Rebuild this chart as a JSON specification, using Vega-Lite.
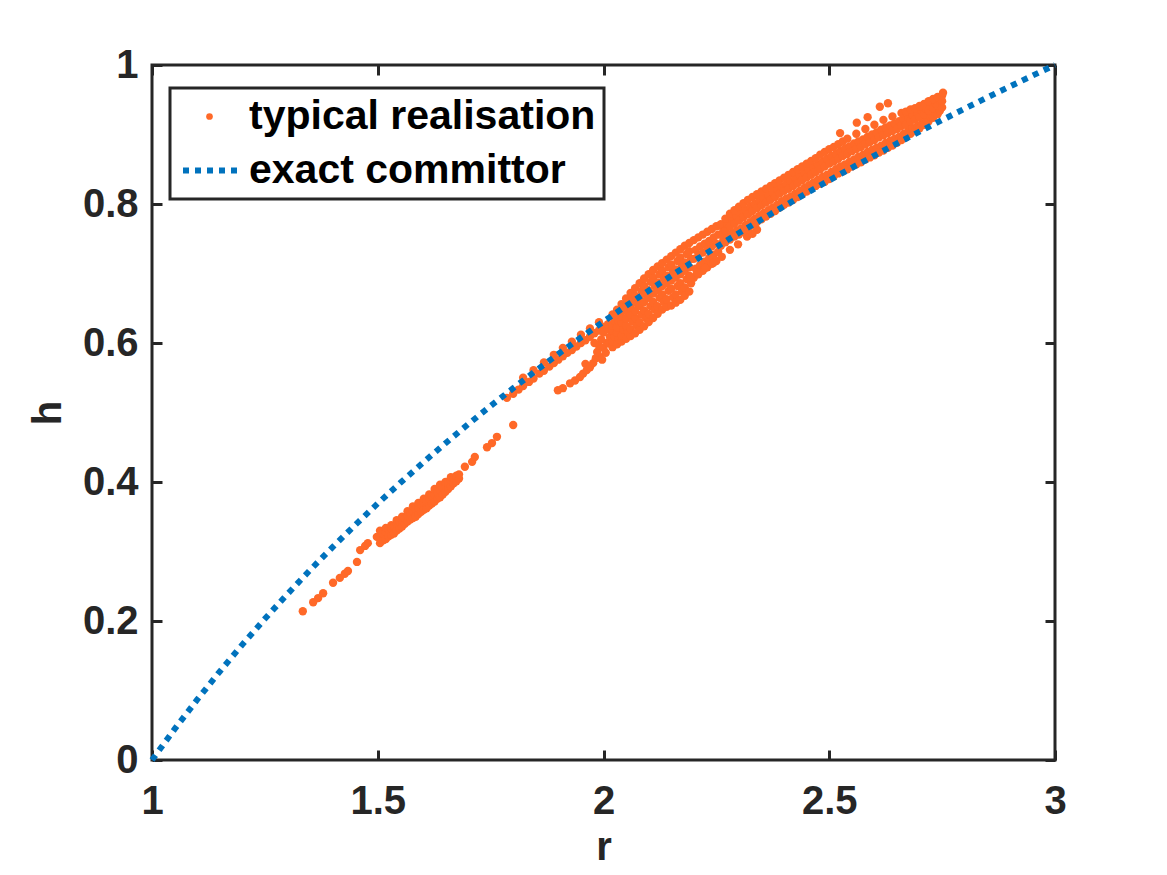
{
"$schema":"https://vega.github.io/schema/vega-lite/v6.json",
"width":903,"height":695,
"autosize":{"type":"none"},
"padding":{"left":152,"top":65,"right":112,"bottom":115},
"background":"white",
"config":{
 "view":{"stroke":"#262626","strokeWidth":3},
 "font":"Liberation Sans",
 "axis":{"grid":false,"domain":false,"labelFont":"Liberation Sans","labelFontSize":40,"labelFontWeight":"bold","labelColor":"#262626","tickColor":"#262626","tickWidth":3,"titleFont":"Liberation Sans","titleFontSize":40,"titleFontWeight":"bold","titleColor":"#262626"},
 "legend":{"strokeWidth":3}
},
"datasets":{
"curve":[
{"r":1.0,"h":0},{"r":1.05,"h":0.0444},{"r":1.1,"h":0.0868},{"r":1.15,"h":0.1272},{"r":1.2,"h":0.166},{"r":1.25,"h":0.2031},{"r":1.3,"h":0.2388},{"r":1.35,"h":0.2732},{"r":1.4,"h":0.3063},{"r":1.45,"h":0.3382},{"r":1.5,"h":0.3691},{"r":1.55,"h":0.3989},{"r":1.6,"h":0.4278},{"r":1.65,"h":0.4558},{"r":1.7,"h":0.483},{"r":1.75,"h":0.5094},{"r":1.8,"h":0.535},{"r":1.85,"h":0.56},{"r":1.9,"h":0.5842},{"r":1.95,"h":0.6079},{"r":2.0,"h":0.6309},{"r":2.05,"h":0.6534},{"r":2.1,"h":0.6753},{"r":2.15,"h":0.6968},{"r":2.2,"h":0.7177},{"r":2.25,"h":0.7381},{"r":2.3,"h":0.7582},{"r":2.35,"h":0.7777},{"r":2.4,"h":0.7969},{"r":2.45,"h":0.8157},{"r":2.5,"h":0.834},{"r":2.55,"h":0.8521},{"r":2.6,"h":0.8697},{"r":2.65,"h":0.8871},{"r":2.7,"h":0.9041},{"r":2.75,"h":0.9208},{"r":2.8,"h":0.9372},{"r":2.85,"h":0.9533},{"r":2.9,"h":0.9691},{"r":2.95,"h":0.9847},{"r":3.0,"h":1.0}
],
"pts":[
{"r":1.334,"h":0.214},{"r":1.357,"h":0.227},{"r":1.368,"h":0.233},{"r":1.379,"h":0.240},{"r":1.401,"h":0.255},{"r":1.416,"h":0.262},{"r":1.427,"h":0.268},{"r":1.434,"h":0.272},{"r":1.454,"h":0.285},{"r":1.461,"h":0.302},{"r":1.472,"h":0.308},{"r":1.478,"h":0.312},{"r":1.498,"h":0.321},
{"r":1.505,"h":0.312},{"r":1.505,"h":0.322},{"r":1.505,"h":0.330},
{"r":1.512,"h":0.316},{"r":1.512,"h":0.326},
{"r":1.518,"h":0.318},{"r":1.518,"h":0.328},{"r":1.518,"h":0.334},
{"r":1.524,"h":0.322},{"r":1.524,"h":0.332},
{"r":1.530,"h":0.324},{"r":1.530,"h":0.333},{"r":1.530,"h":0.338},
{"r":1.536,"h":0.326},{"r":1.536,"h":0.336},
{"r":1.542,"h":0.330},{"r":1.542,"h":0.340},{"r":1.542,"h":0.345},
{"r":1.548,"h":0.333},{"r":1.548,"h":0.343},
{"r":1.554,"h":0.336},{"r":1.554,"h":0.345},{"r":1.554,"h":0.350},
{"r":1.560,"h":0.340},{"r":1.560,"h":0.348},
{"r":1.566,"h":0.343},{"r":1.566,"h":0.352},{"r":1.566,"h":0.358},
{"r":1.572,"h":0.346},{"r":1.572,"h":0.356},
{"r":1.578,"h":0.348},{"r":1.578,"h":0.358},{"r":1.578,"h":0.365},
{"r":1.584,"h":0.350},{"r":1.584,"h":0.361},
{"r":1.590,"h":0.354},{"r":1.590,"h":0.363},{"r":1.590,"h":0.370},
{"r":1.596,"h":0.357},{"r":1.596,"h":0.367},
{"r":1.602,"h":0.360},{"r":1.602,"h":0.370},{"r":1.602,"h":0.376},
{"r":1.608,"h":0.362},{"r":1.608,"h":0.373},
{"r":1.614,"h":0.366},{"r":1.614,"h":0.376},{"r":1.614,"h":0.382},
{"r":1.620,"h":0.369},{"r":1.620,"h":0.380},
{"r":1.626,"h":0.372},{"r":1.626,"h":0.382},{"r":1.626,"h":0.390},
{"r":1.632,"h":0.376},{"r":1.632,"h":0.386},
{"r":1.638,"h":0.378},{"r":1.638,"h":0.388},{"r":1.638,"h":0.396},
{"r":1.644,"h":0.382},{"r":1.644,"h":0.392},
{"r":1.650,"h":0.386},{"r":1.650,"h":0.395},{"r":1.650,"h":0.400},
{"r":1.656,"h":0.390},{"r":1.656,"h":0.398},
{"r":1.662,"h":0.394},{"r":1.662,"h":0.402},{"r":1.662,"h":0.407},
{"r":1.668,"h":0.398},{"r":1.668,"h":0.405},
{"r":1.674,"h":0.401},{"r":1.674,"h":0.409},
{"r":1.680,"h":0.405},{"r":1.680,"h":0.411},
{"r":1.693,"h":0.422},{"r":1.709,"h":0.429},{"r":1.715,"h":0.436},{"r":1.742,"h":0.450},{"r":1.753,"h":0.456},{"r":1.764,"h":0.465},{"r":1.800,"h":0.482},
{"r":1.786,"h":0.521},{"r":1.800,"h":0.527},{"r":1.812,"h":0.533},{"r":1.822,"h":0.538},{"r":1.822,"h":0.550},{"r":1.835,"h":0.544},{"r":1.845,"h":0.549},{"r":1.845,"h":0.561},{"r":1.858,"h":0.556},{"r":1.868,"h":0.572},{"r":1.868,"h":0.560},{"r":1.880,"h":0.566},{"r":1.890,"h":0.571},{"r":1.890,"h":0.583},{"r":1.900,"h":0.576},{"r":1.910,"h":0.581},{"r":1.910,"h":0.593},{"r":1.920,"h":0.586},{"r":1.930,"h":0.590},{"r":1.930,"h":0.602},{"r":1.940,"h":0.595},{"r":1.950,"h":0.600},{"r":1.950,"h":0.612},{"r":1.960,"h":0.604},{"r":1.970,"h":0.609},{"r":1.970,"h":0.621},{"r":1.980,"h":0.614},{"r":1.990,"h":0.618},{"r":1.990,"h":0.630},{"r":2.000,"h":0.623},{"r":2.010,"h":0.627},
{"r":1.899,"h":0.532},{"r":1.910,"h":0.535},{"r":1.926,"h":0.542},{"r":1.937,"h":0.546},{"r":1.948,"h":0.551},{"r":1.955,"h":0.556},{"r":1.963,"h":0.561},{"r":1.960,"h":0.570},{"r":1.970,"h":0.565},{"r":1.977,"h":0.571},{"r":1.983,"h":0.578},{"r":1.992,"h":0.580},{"r":1.997,"h":0.576},{"r":1.986,"h":0.587},{"r":1.990,"h":0.596},{"r":2.000,"h":0.593},{"r":2.005,"h":0.586},{"r":2.008,"h":0.600},{"r":2.014,"h":0.609},{"r":2.020,"h":0.595},{"r":1.995,"h":0.605},{"r":2.000,"h":0.615},{"r":2.010,"h":0.620},{"r":1.980,"h":0.600},
{"r":2.02,"h":0.594},{"r":2.02,"h":0.602},{"r":2.024,"h":0.610},{"r":2.02,"h":0.618},{"r":2.02,"h":0.625},{"r":2.024,"h":0.633},{"r":2.02,"h":0.641},
{"r":2.03,"h":0.598},{"r":2.034,"h":0.606},{"r":2.03,"h":0.615},{"r":2.03,"h":0.623},{"r":2.034,"h":0.631},{"r":2.03,"h":0.640},{"r":2.03,"h":0.648},
{"r":2.04,"h":0.602},{"r":2.04,"h":0.611},{"r":2.044,"h":0.620},{"r":2.04,"h":0.629},{"r":2.04,"h":0.638},{"r":2.044,"h":0.647},{"r":2.04,"h":0.656},
{"r":2.05,"h":0.606},{"r":2.054,"h":0.616},{"r":2.05,"h":0.625},{"r":2.05,"h":0.635},{"r":2.054,"h":0.645},{"r":2.05,"h":0.654},{"r":2.05,"h":0.664},
{"r":2.06,"h":0.610},{"r":2.06,"h":0.620},{"r":2.064,"h":0.631},{"r":2.06,"h":0.641},{"r":2.06,"h":0.651},{"r":2.064,"h":0.662},{"r":2.06,"h":0.672},
{"r":2.07,"h":0.614},{"r":2.074,"h":0.625},{"r":2.07,"h":0.636},{"r":2.07,"h":0.646},{"r":2.074,"h":0.657},{"r":2.07,"h":0.668},{"r":2.07,"h":0.679},
{"r":2.08,"h":0.619},{"r":2.08,"h":0.630},{"r":2.084,"h":0.641},{"r":2.08,"h":0.653},{"r":2.08,"h":0.664},{"r":2.084,"h":0.675},{"r":2.08,"h":0.686},
{"r":2.09,"h":0.624},{"r":2.094,"h":0.636},{"r":2.09,"h":0.647},{"r":2.09,"h":0.659},{"r":2.094,"h":0.670},{"r":2.09,"h":0.682},{"r":2.09,"h":0.693},
{"r":2.10,"h":0.630},{"r":2.10,"h":0.642},{"r":2.104,"h":0.653},{"r":2.10,"h":0.665},{"r":2.10,"h":0.676},{"r":2.104,"h":0.688},{"r":2.10,"h":0.699},
{"r":2.11,"h":0.636},{"r":2.114,"h":0.648},{"r":2.11,"h":0.659},{"r":2.11,"h":0.671},{"r":2.114,"h":0.682},{"r":2.11,"h":0.694},{"r":2.11,"h":0.705},
{"r":2.12,"h":0.642},{"r":2.12,"h":0.653},{"r":2.124,"h":0.665},{"r":2.12,"h":0.676},{"r":2.12,"h":0.687},{"r":2.124,"h":0.699},{"r":2.12,"h":0.710},
{"r":2.13,"h":0.648},{"r":2.134,"h":0.659},{"r":2.13,"h":0.670},{"r":2.13,"h":0.682},{"r":2.134,"h":0.693},{"r":2.13,"h":0.704},{"r":2.13,"h":0.715},
{"r":2.14,"h":0.652},{"r":2.14,"h":0.663},{"r":2.144,"h":0.675},{"r":2.14,"h":0.686},{"r":2.14,"h":0.697},{"r":2.144,"h":0.709},{"r":2.14,"h":0.720},
{"r":2.15,"h":0.654},{"r":2.154,"h":0.666},{"r":2.15,"h":0.678},{"r":2.15,"h":0.690},{"r":2.154,"h":0.701},{"r":2.15,"h":0.713},{"r":2.15,"h":0.725},
{"r":2.16,"h":0.658},{"r":2.16,"h":0.670},{"r":2.164,"h":0.682},{"r":2.16,"h":0.694},{"r":2.16,"h":0.706},{"r":2.164,"h":0.718},{"r":2.16,"h":0.730},
{"r":2.17,"h":0.662},{"r":2.174,"h":0.674},{"r":2.17,"h":0.686},{"r":2.17,"h":0.699},{"r":2.174,"h":0.711},{"r":2.17,"h":0.723},{"r":2.17,"h":0.735},
{"r":2.18,"h":0.668},{"r":2.18,"h":0.680},{"r":2.184,"h":0.692},{"r":2.18,"h":0.704},{"r":2.18,"h":0.716},{"r":2.184,"h":0.728},{"r":2.18,"h":0.740},
{"r":2.19,"h":0.674},{"r":2.194,"h":0.686},{"r":2.19,"h":0.697},{"r":2.19,"h":0.709},{"r":2.194,"h":0.721},{"r":2.19,"h":0.732},{"r":2.19,"h":0.744},
{"r":2.20,"h":0.694},{"r":2.204,"h":0.707},{"r":2.20,"h":0.721},{"r":2.204,"h":0.734},{"r":2.20,"h":0.748},
{"r":2.21,"h":0.699},{"r":2.214,"h":0.712},{"r":2.21,"h":0.726},{"r":2.214,"h":0.739},{"r":2.21,"h":0.752},
{"r":2.22,"h":0.704},{"r":2.224,"h":0.717},{"r":2.22,"h":0.730},{"r":2.224,"h":0.743},{"r":2.22,"h":0.756},
{"r":2.23,"h":0.709},{"r":2.234,"h":0.722},{"r":2.23,"h":0.735},{"r":2.234,"h":0.747},{"r":2.23,"h":0.760},
{"r":2.24,"h":0.714},{"r":2.244,"h":0.727},{"r":2.24,"h":0.739},{"r":2.244,"h":0.752},{"r":2.24,"h":0.764},
{"r":2.25,"h":0.718},{"r":2.254,"h":0.731},{"r":2.25,"h":0.743},{"r":2.254,"h":0.756},{"r":2.25,"h":0.768},
{"r":2.192,"h":0.695},{"r":2.207,"h":0.701},{"r":2.225,"h":0.708},{"r":2.243,"h":0.715},{"r":2.262,"h":0.724},{"r":2.280,"h":0.734},{"r":2.298,"h":0.742},{"r":2.318,"h":0.753},{"r":2.340,"h":0.763},{"r":2.330,"h":0.757},
{"r":2.26,"h":0.740},{"r":2.265,"h":0.747},{"r":2.26,"h":0.756},{"r":2.265,"h":0.764},{"r":2.26,"h":0.771},
{"r":2.27,"h":0.745},{"r":2.275,"h":0.753},{"r":2.27,"h":0.762},{"r":2.275,"h":0.771},{"r":2.27,"h":0.779},
{"r":2.28,"h":0.749},{"r":2.285,"h":0.758},{"r":2.28,"h":0.768},{"r":2.285,"h":0.777},{"r":2.28,"h":0.786},
{"r":2.29,"h":0.753},{"r":2.295,"h":0.762},{"r":2.29,"h":0.772},{"r":2.295,"h":0.782},{"r":2.29,"h":0.791},
{"r":2.30,"h":0.756},{"r":2.305,"h":0.765},{"r":2.30,"h":0.776},{"r":2.305,"h":0.787},{"r":2.30,"h":0.796},
{"r":2.31,"h":0.760},{"r":2.315,"h":0.770},{"r":2.31,"h":0.781},{"r":2.315,"h":0.791},{"r":2.31,"h":0.801},
{"r":2.32,"h":0.764},{"r":2.325,"h":0.774},{"r":2.32,"h":0.785},{"r":2.325,"h":0.796},{"r":2.32,"h":0.806},
{"r":2.33,"h":0.769},{"r":2.335,"h":0.779},{"r":2.33,"h":0.790},{"r":2.335,"h":0.800},{"r":2.33,"h":0.810},
{"r":2.34,"h":0.774},{"r":2.345,"h":0.783},{"r":2.34,"h":0.794},{"r":2.345,"h":0.805},{"r":2.34,"h":0.814},
{"r":2.35,"h":0.778},{"r":2.355,"h":0.787},{"r":2.35,"h":0.798},{"r":2.355,"h":0.809},{"r":2.35,"h":0.818},
{"r":2.36,"h":0.782},{"r":2.365,"h":0.791},{"r":2.36,"h":0.802},{"r":2.365,"h":0.813},{"r":2.36,"h":0.822},
{"r":2.37,"h":0.786},{"r":2.375,"h":0.795},{"r":2.37,"h":0.806},{"r":2.375,"h":0.817},{"r":2.37,"h":0.826},
{"r":2.38,"h":0.790},{"r":2.385,"h":0.799},{"r":2.38,"h":0.810},{"r":2.385,"h":0.821},{"r":2.38,"h":0.830},
{"r":2.39,"h":0.795},{"r":2.395,"h":0.804},{"r":2.39,"h":0.815},{"r":2.395,"h":0.825},{"r":2.39,"h":0.834},
{"r":2.40,"h":0.799},{"r":2.405,"h":0.808},{"r":2.40,"h":0.819},{"r":2.405,"h":0.829},{"r":2.40,"h":0.838},
{"r":2.41,"h":0.802},{"r":2.415,"h":0.811},{"r":2.41,"h":0.822},{"r":2.415,"h":0.833},{"r":2.41,"h":0.842},
{"r":2.42,"h":0.806},{"r":2.425,"h":0.815},{"r":2.42,"h":0.826},{"r":2.425,"h":0.837},{"r":2.42,"h":0.846},
{"r":2.43,"h":0.810},{"r":2.435,"h":0.819},{"r":2.43,"h":0.830},{"r":2.435,"h":0.841},{"r":2.43,"h":0.850},
{"r":2.44,"h":0.814},{"r":2.445,"h":0.823},{"r":2.44,"h":0.834},{"r":2.445,"h":0.845},{"r":2.44,"h":0.854},
{"r":2.45,"h":0.818},{"r":2.455,"h":0.827},{"r":2.45,"h":0.838},{"r":2.455,"h":0.849},{"r":2.45,"h":0.858},
{"r":2.46,"h":0.822},{"r":2.465,"h":0.831},{"r":2.46,"h":0.842},{"r":2.465,"h":0.853},{"r":2.46,"h":0.862},
{"r":2.47,"h":0.826},{"r":2.475,"h":0.835},{"r":2.47,"h":0.846},{"r":2.475,"h":0.857},{"r":2.47,"h":0.866},
{"r":2.48,"h":0.829},{"r":2.485,"h":0.839},{"r":2.48,"h":0.850},{"r":2.485,"h":0.861},{"r":2.48,"h":0.871},
{"r":2.49,"h":0.832},{"r":2.495,"h":0.842},{"r":2.49,"h":0.854},{"r":2.495,"h":0.865},{"r":2.49,"h":0.875},
{"r":2.50,"h":0.836},{"r":2.505,"h":0.846},{"r":2.50,"h":0.858},{"r":2.505,"h":0.869},{"r":2.50,"h":0.879},
{"r":2.51,"h":0.840},{"r":2.515,"h":0.850},{"r":2.51,"h":0.861},{"r":2.515,"h":0.872},{"r":2.51,"h":0.882},
{"r":2.52,"h":0.844},{"r":2.525,"h":0.854},{"r":2.52,"h":0.865},{"r":2.525,"h":0.876},{"r":2.52,"h":0.886},
{"r":2.53,"h":0.847},{"r":2.535,"h":0.857},{"r":2.53,"h":0.869},{"r":2.535,"h":0.880},{"r":2.53,"h":0.890},
{"r":2.54,"h":0.850},{"r":2.545,"h":0.861},{"r":2.54,"h":0.872},{"r":2.545,"h":0.883},{"r":2.54,"h":0.894},
{"r":2.55,"h":0.854},{"r":2.555,"h":0.864},{"r":2.55,"h":0.876},{"r":2.555,"h":0.887},
{"r":2.56,"h":0.857},{"r":2.565,"h":0.868},{"r":2.56,"h":0.879},{"r":2.565,"h":0.890},{"r":2.56,"h":0.901},
{"r":2.57,"h":0.860},{"r":2.575,"h":0.871},{"r":2.57,"h":0.882},{"r":2.575,"h":0.893},
{"r":2.58,"h":0.864},{"r":2.585,"h":0.875},{"r":2.58,"h":0.886},{"r":2.585,"h":0.897},{"r":2.58,"h":0.908},
{"r":2.59,"h":0.867},{"r":2.595,"h":0.878},{"r":2.59,"h":0.889},{"r":2.595,"h":0.900},
{"r":2.60,"h":0.870},{"r":2.605,"h":0.881},{"r":2.60,"h":0.892},{"r":2.605,"h":0.903},{"r":2.60,"h":0.914},
{"r":2.61,"h":0.874},{"r":2.615,"h":0.884},{"r":2.61,"h":0.896},{"r":2.615,"h":0.907},
{"r":2.62,"h":0.877},{"r":2.625,"h":0.888},{"r":2.62,"h":0.899},{"r":2.625,"h":0.910},{"r":2.62,"h":0.921},
{"r":2.63,"h":0.881},{"r":2.635,"h":0.891},{"r":2.63,"h":0.902},{"r":2.635,"h":0.913},
{"r":2.64,"h":0.884},{"r":2.645,"h":0.894},{"r":2.64,"h":0.905},{"r":2.645,"h":0.916},{"r":2.64,"h":0.926},
{"r":2.65,"h":0.888},{"r":2.655,"h":0.897},{"r":2.65,"h":0.908},{"r":2.655,"h":0.919},
{"r":2.66,"h":0.892},{"r":2.665,"h":0.901},{"r":2.66,"h":0.912},{"r":2.665,"h":0.922},{"r":2.66,"h":0.931},
{"r":2.67,"h":0.896},{"r":2.675,"h":0.905},{"r":2.67,"h":0.914},{"r":2.675,"h":0.924},{"r":2.67,"h":0.933},
{"r":2.68,"h":0.901},{"r":2.685,"h":0.909},{"r":2.68,"h":0.919},{"r":2.685,"h":0.928},{"r":2.68,"h":0.936},
{"r":2.69,"h":0.905},{"r":2.695,"h":0.912},{"r":2.69,"h":0.922},{"r":2.695,"h":0.931},{"r":2.69,"h":0.938},
{"r":2.70,"h":0.909},{"r":2.705,"h":0.916},{"r":2.70,"h":0.925},{"r":2.705,"h":0.934},{"r":2.70,"h":0.941},
{"r":2.71,"h":0.914},{"r":2.715,"h":0.921},{"r":2.71,"h":0.929},{"r":2.715,"h":0.937},{"r":2.71,"h":0.944},
{"r":2.72,"h":0.919},{"r":2.725,"h":0.925},{"r":2.72,"h":0.934},{"r":2.725,"h":0.941},{"r":2.72,"h":0.948},
{"r":2.73,"h":0.924},{"r":2.735,"h":0.930},{"r":2.73,"h":0.938},{"r":2.735,"h":0.945},{"r":2.73,"h":0.951},
{"r":2.74,"h":0.929},{"r":2.745,"h":0.934},{"r":2.74,"h":0.942},{"r":2.745,"h":0.949},{"r":2.74,"h":0.954},
{"r":2.75,"h":0.939},{"r":2.75,"h":0.948},{"r":2.75,"h":0.956},
{"r":2.524,"h":0.902},{"r":2.561,"h":0.917},{"r":2.612,"h":0.940},{"r":2.630,"h":0.945},{"r":2.752,"h":0.960},{"r":2.585,"h":0.925}
]
},
"layer":[
{
 "data":{"name":"pts"},
 "mark":{"type":"circle","size":70,"opacity":1},
 "encoding":{
  "x":{"field":"r","type":"quantitative","scale":{"domain":[1,3],"nice":false,"zero":false},
       "axis":{"orient":"bottom","title":"r","values":[1,1.5,2,2.5,3],"format":"~g","tickSize":-10,"labelPadding":31,"labelFlush":false,"titlePadding":6}},
  "y":{"field":"h","type":"quantitative","scale":{"domain":[0,1],"nice":false,"zero":false},
       "axis":{"orient":"left","title":"h","values":[0,0.2,0.4,0.6,0.8,1],"format":"~g","tickSize":-10,"labelPadding":24,"labelFlush":false,"titlePadding":14}},
  "color":{"datum":"typical realisation","type":"nominal",
    "scale":{"domain":["typical realisation","exact committor"],"range":["#FF6928","transparent"]},
    "legend":{"title":null,"orient":"none","legendX":18,"legendY":23,"direction":"vertical",
      "fillColor":"white","strokeColor":"#262626","padding":8,"symbolOffset":11,"symbolType":"circle","symbolSize":45,
      "labelFont":"Liberation Sans","labelFontSize":41,"labelFontWeight":"bold","labelColor":"#000000","labelOffset":19,"labelLimit":1000,
      "rowPadding":12,"symbolStrokeWidth":0}}
 }
},
{
 "data":{"name":"curve"},
 "mark":{"type":"line","strokeWidth":6,"strokeCap":"butt","color":"#0072BD"},
 "encoding":{
  "x":{"field":"r","type":"quantitative","scale":{"domain":[1,3],"nice":false,"zero":false},
       "axis":{"orient":"top","title":null,"labels":false,"values":[1,1.5,2,2.5,3],"tickSize":-10}},
  "y":{"field":"h","type":"quantitative","scale":{"domain":[0,1],"nice":false,"zero":false},
       "axis":{"orient":"right","title":null,"labels":false,"values":[0,0.2,0.4,0.6,0.8,1],"tickSize":-10}},
  "strokeDash":{"datum":"exact committor","type":"nominal",
    "scale":{"domain":["exact committor"],"range":[[6,6]]},
    "legend":{"title":null,"orient":"none","legendX":28,"legendY":74,"padding":0,
      "symbolType":"stroke","symbolSize":3249,"symbolStrokeWidth":6,"symbolStrokeColor":"#0072BD","symbolOffset":0,
      "labelExpr":"''","labelFontSize":1,"labelOffset":0}}
 }
}
],
"resolve":{"axis":{"x":"independent","y":"independent"}}
}
